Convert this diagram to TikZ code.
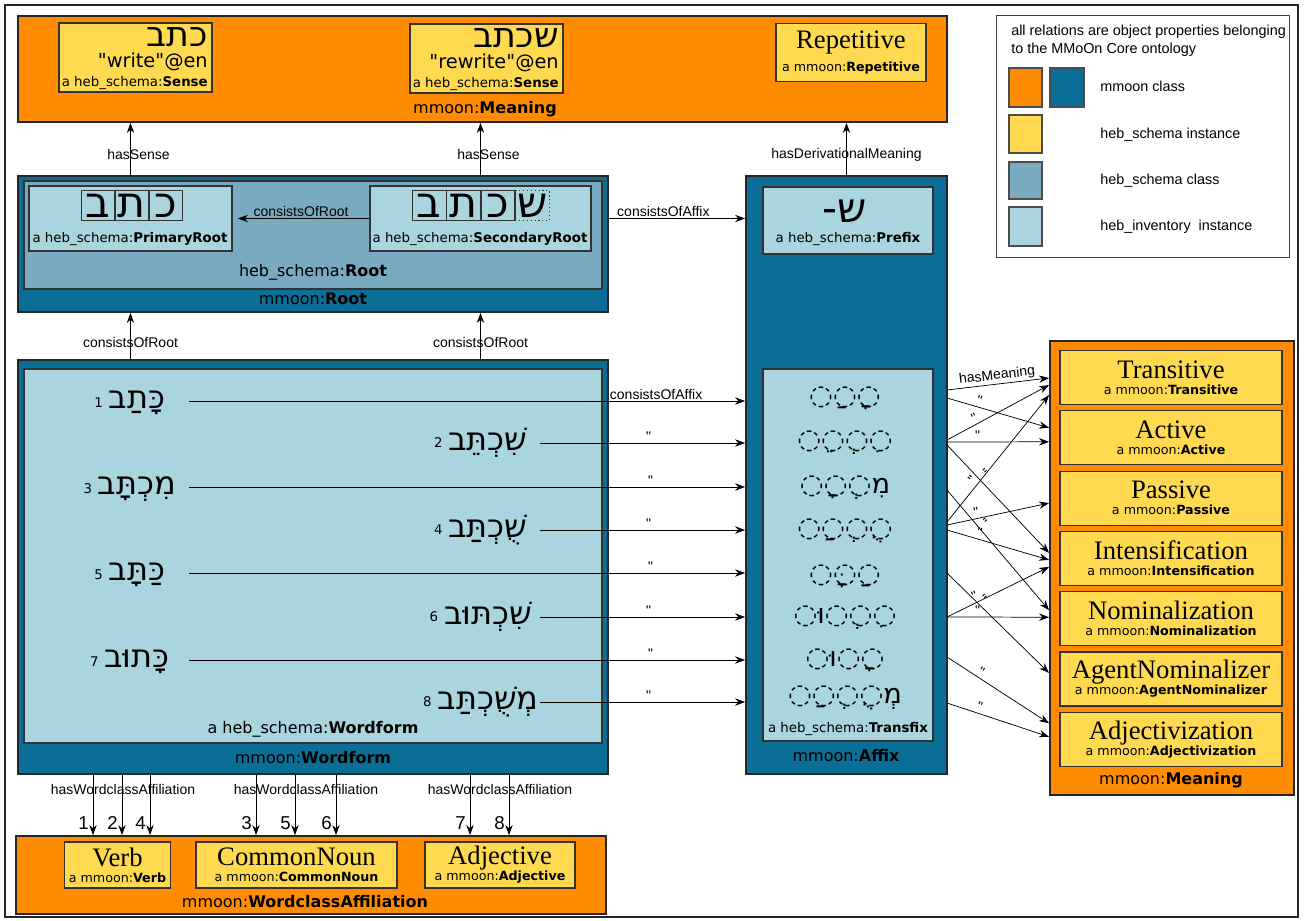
\documentclass[tikz,border=0pt]{standalone}
\usepackage{fontspec}
\setmainfont{DejaVu Sans}[Ligatures=TeXOff]
\newfontfamily\labelfont{Liberation Sans}[Ligatures=TeXOff]
\newfontfamily\titlefont{Liberation Serif}
\newfontfamily\hebfont{DejaVu Sans}[Script=Hebrew]
\usetikzlibrary{arrows.meta,positioning,fit,calc}
\TeXXeTstate=1

\definecolor{mmorange}{RGB}{255,140,0}
\definecolor{mmyellow}{RGB}{255,217,80}
\definecolor{mmblue}{RGB}{11,110,150}
\definecolor{schemacls}{RGB}{122,170,191}
\definecolor{invinst}{RGB}{170,213,222}

\newcommand{\heb}[2]{{\hebfont\fontsize{#1}{#1}\selectfont\beginR #2\endR}}
\newcommand{\mmInst}[1]{{\titlefont\fontsize{20}{19}\selectfont #1}\\{\fontsize{9.5}{12}\selectfont a mmoon:\textbf{#1}}}

\begin{document}
\begin{tikzpicture}[x=0.75pt,y=-0.75pt,
  box/.style={draw=black!80,line width=0.9pt,inner sep=0pt},
  outer/.style={draw=black!85,line width=1.4pt,inner sep=0pt},
  inst/.style={box,fill=mmyellow,align=center},
  letter/.style={box,minimum width=25.5pt,minimum height=22.5pt,font=\hebfont\fontsize{32}{32}\selectfont},
  rel/.style={-{Stealth[length=7.5pt,width=5.5pt]},line width=0.55pt},
  lbl/.style={font=\labelfont\fontsize{10.5}{12}\selectfont,inner sep=1pt},
  sub/.style={font=\fontsize{10}{12}\selectfont,inner sep=0pt},
  cls/.style={font=\fontsize{12}{14}\selectfont,inner sep=0pt},
  num/.style={font=\fontsize{10}{12}\selectfont,inner sep=0pt},
  lgd/.style={font=\labelfont\fontsize{10.8}{13.5}\selectfont,inner sep=0pt},
  swatch/.style={draw=black!70,line width=1pt,inner sep=0pt}]
\useasboundingbox (0,0) rectangle (1304,921);
\draw[black!85,line width=1.1pt] (5,5) rectangle (1298,917);

% meaning (top)
\node[outer,fill=mmorange,fit={(18,16)(947,122)}] (meaningTop) {};
\node[box,fill=mmyellow,fit={(59,23)(212,92)}] (senseWrite) {};
\node[anchor=east,inner sep=0pt] (senseWriteHeb) at (208,37) {\heb{26}{כתב}};
\node[anchor=east,inner sep=0pt,font=\fontsize{14.5}{16}\selectfont] (senseWriteEn) at (208,62) {"write"@en};
\node[anchor=east,sub] (senseWriteCls) at (208,83) {a heb\_schema:\textbf{Sense}};
\node[box,fill=mmyellow,fit={(410,24)(563,93)}] (senseRewrite) {};
\node[anchor=east,inner sep=0pt] (senseRewriteHeb) at (559,38) {\heb{26}{שכתב}};
\node[anchor=east,inner sep=0pt,font=\fontsize{14.5}{16}\selectfont] (senseRewriteEn) at (559,63) {"rewrite"@en};
\node[anchor=east,sub] (senseRewriteCls) at (559,84) {a heb\_schema:\textbf{Sense}};
\node[inst,minimum width=112.5pt,minimum height=44pt] (repetitive) at (851,52.5)
  {{\titlefont\fontsize{20}{19}\selectfont Repetitive}\\[5pt]{\fontsize{9.5}{12}\selectfont a mmoon:\textbf{Repetitive}}};
\node[cls] (meaningTopLbl) at (485,109) {mmoon:\textbf{Meaning}};

% legend
\node[draw=black!75,line width=0.7pt,fill=white,inner sep=0pt,fit={(996,15)(1289,257)}] (legend) {};
\node[anchor=north west,align=left,lgd] (legendNote) at (1011,25) {all relations are object properties belonging\\to the MMoOn Core ontology};
\node[swatch,fill=mmorange,fit={(1009,68)(1042,107)}] (swClassA) {};
\node[swatch,fill=mmblue,fit={(1050,68)(1084,107)}] (swClassB) {};
\node[swatch,fill=mmyellow,fit={(1009,115)(1042,153)}] (swSchemaInst) {};
\node[swatch,fill=schemacls,fit={(1009,162)(1042,199)}] (swSchemaCls) {};
\node[swatch,fill=invinst,fit={(1009,207)(1042,246)}] (swInvInst) {};
\node[anchor=west,lgd] (lgClass) at (1100,86) {mmoon class};
\node[anchor=west,lgd] (lgSchemaInst) at (1100,135) {heb\_schema instance};
\node[anchor=west,lgd] (lgSchemaCls) at (1100,181) {heb\_schema class};
\node[anchor=west,lgd] (lgInvInst) at (1100,227) {heb\_inventory\ \ instance};

% root
\node[outer,fill=mmblue,fit={(18,176)(608,312)}] (root) {};
\node[box,fill=schemacls,fit={(24,181)(602,289)}] (rootSchema) {};
\node[box,fill=invinst,fit={(29,186)(232,251)}] (primRoot) {};
\node[box,fill=invinst,fit={(370,186)(591,251)}] (secRoot) {};
\foreach \l [count=\i] in {ב,ת,כ}
  \node[letter] (pr\i) at (64.5+33.7*\i,205.5) {\l};
\foreach \l [count=\i] in {ב,ת,כ}
  \node[letter] (sr\i) at (395+34.3*\i,205.5) {\l};
\node[letter,dotted] (sr4) at (532.2,205.5) {ש};
\node[sub] (primRootLbl) at (130,239) {a heb\_schema:\textbf{PrimaryRoot}};
\node[sub] (secRootLbl) at (480,239) {a heb\_schema:\textbf{SecondaryRoot}};
\node[cls] (rootSchemaLbl) at (313,272) {heb\_schema:\textbf{Root}};
\node[cls] (rootLbl) at (313,299) {mmoon:\textbf{Root}};

% affix
\node[outer,fill=mmblue,fit={(746,176)(947,774)}] (affix) {};
\node[box,fill=invinst,fit={(763,187)(933,254)}] (prefix) {};
\node[inner sep=0pt] (prefixHeb) at (845,211) {\heb{31}{ש-}};
\node[sub] (prefixLbl) at (848,239) {a heb\_schema:\textbf{Prefix}};
\node[box,fill=invinst,fit={(763,369)(933,741)}] (transfix) {};
\foreach \p/\y [count=\i] in {◌ָ◌ַ◌/395,◌ִ◌ְ◌ֵ◌/440,מִ◌ְ◌ָ◌/485,◌ֻ◌ְ◌ַ◌/528,◌ַ◌ָּ◌/573,◌ִ◌ְ◌וּ◌/615,◌ָ◌וּ◌/657,מְ◌ֻ◌ְ◌ַ◌/695}
  \node[inner sep=0pt] (tf\i) at (845,\y+3) {\heb{20.5}{\p}};
\node[sub] (transfixLbl) at (848,729) {a heb\_schema:\textbf{Transfix}};
\node[cls] (affixLbl) at (846,756) {mmoon:\textbf{Affix}};

% meaning (right)
\node[outer,fill=mmorange,fit={(1050,341)(1294,795)}] (meaningR) {};
\foreach \m [count=\i] in {Transitive,Active,Passive,Intensification,Nominalization,AgentNominalizer,Adjectivization}
  \node[inst,minimum width=166.5pt,minimum height=40.5pt] (m\m) at (1171,317.2+60.3*\i) {\mmInst{\m}};
\node[cls] (meaningRLbl) at (1171,780) {mmoon:\textbf{Meaning}};

% wordform
\node[outer,fill=mmblue,fit={(18,360)(608,774)}] (wordform) {};
\node[box,fill=invinst,fit={(24,369)(602,743)}] (wordformInv) {};
\foreach \w/\x/\y [count=\i] in {כָּתַב/137/401,שִׁכְתֵּב/488/443,מִכְתָּב/137/487,שֻׁכְתַּב/488/530,כַּתָּב/137/573,שִׁכְתּוּב/488/617,כָּתוּב/137/660,מְשֻׁכְתַּב/488/702}{
  \node[anchor=base,inner sep=0pt] (w\i) at (\x,\y+7) {\heb{24}{\w}};
  \node[num,left=4pt of w\i] (n\i) {\i};
}
\node[cls] (wordformInvLbl) at (313,729) {a heb\_schema:\textbf{Wordform}};
\node[cls] (wordformLbl) at (313,758) {mmoon:\textbf{Wordform}};

% wordclass affiliation
\node[outer,fill=mmorange,fit={(16,836)(606,914)}] (wclass) {};
\node[inst,minimum width=80pt,minimum height=34.5pt] (verb) at (117.5,865) {\mmInst{Verb}};
\node[inst,minimum width=150.75pt,minimum height=34.5pt] (commonNoun) at (296.5,865) {\mmInst{CommonNoun}};
\node[inst,minimum width=112.5pt,minimum height=34.5pt] (adjective) at (500,865) {\mmInst{Adjective}};
\node[cls] (wclassLbl) at (305,902) {mmoon:\textbf{WordclassAffiliation}};

% relations
\draw[rel] (root.north -| primRoot) -- (meaningTop.south -| primRoot) node[pos=0.39,lbl,xshift=6pt]{hasSense};
\draw[rel] (root.north -| secRoot) -- (meaningTop.south -| secRoot) node[pos=0.39,lbl,xshift=6pt]{hasSense};
\draw[rel] (affix.north) -- (affix.north |- meaningTop.south) node[pos=0.39,lbl]{hasDerivationalMeaning};
\draw[rel,shorten >=4pt] (secRoot.west) -- (primRoot.east) node[midway,above,lbl]{consistsOfRoot};
\draw[rel] (root.east |- secRoot) -- (affix.west |- secRoot) node[pos=0.4,above,lbl]{consistsOfAffix};
\draw[rel] (wordform.north -| primRoot) -- (root.south -| primRoot) node[pos=0.35,lbl]{consistsOfRoot};
\draw[rel] (wordform.north -| secRoot) -- (root.south -| secRoot) node[pos=0.35,lbl]{consistsOfRoot};

\foreach \x/\y/\p [count=\i] in {189/401/.84,540/443/.53,189/487/.83,540/530/.53,189/573/.83,540/617/.53,189/660/.83,540/702/.53}{
  \coordinate (s\i) at (\x,\y);
  \draw[rel] (s\i) -- (s\i -| affix.west) node[pos=\p,above,lbl]{\ifnum\i=1 consistsOfAffix\else "\fi};
}

\foreach \i/\y in {1/394,2/442,3/490,4/526,5/573,6/617,7/657,8/703}
  \coordinate (r\i) at (947,\y);
\draw[rel] ($(r1)+(0,-4)$) -- ($(mTransitive.west -| meaningR.west)+(0,0.5)$) node[midway,above,sloped,lbl]{hasMeaning};
\foreach \s/\so/\t/\to in {r1/4/Active/-10,r2/-2/Transitive/7.5,r2/0/Active/4,r2/3/Intensification/-5.5,
    r3/0/Nominalization/-8.5,r4/-4/Transitive/17.5,r4/-1/Passive/5,r4/4/Intensification/1.5,
    r5/0/AgentNominalizer/-6,r6/0/Intensification/8.5,r6/0/Nominalization/-1.5,
    r7/0/Adjectivization/-16,r8/0/Adjectivization/-2.5}
  \draw[rel] ($(\s)+(0,\so)$) -- ($(m\t.west -| meaningR.west)+(0,\to)$) node[pos=0.3,above,sloped,lbl]{"};

\foreach \x/\n in {93/1,122/2,150/4,256/3,295/5,336/6,470/7,509/8}{
  \coordinate (wc\n) at (\x,800);
  \draw[rel] (wordform.south -| wc\n) -- (wclass.north -| wc\n) node[pos=0.8,left=2pt,lbl,font=\labelfont\fontsize{14}{15}\selectfont]{\n};
}
\node[lbl] (hwa1) at (123,789) {hasWordclassAffiliation};
\node[lbl] (hwa2) at (306,789) {hasWordclassAffiliation};
\node[lbl] (hwa3) at (500,789) {hasWordclassAffiliation};
\end{tikzpicture}
\end{document}
